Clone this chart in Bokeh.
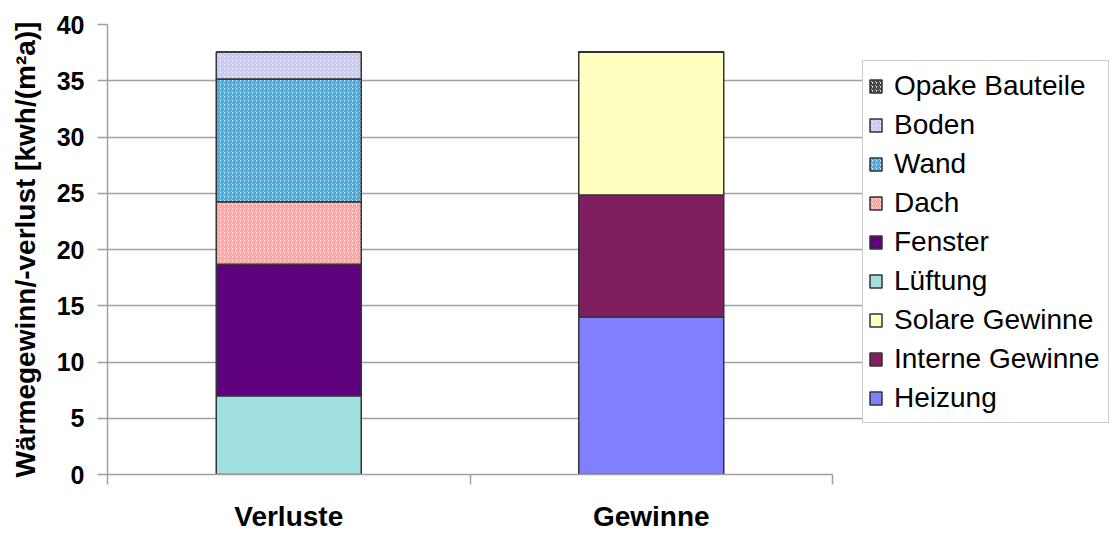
import numpy as np
from bokeh.plotting import figure
from bokeh.models import ColumnDataSource, Range1d, FixedTicker, Legend, LegendItem
from bokeh.embed import file_html
from bokeh.resources import INLINE

# Categories on the x axis
categories = ["Verluste", "Gewinne"]

# Series in stacking order (bottom to top); values per category in kWh/(m²a)
series = ["Heizung", "Interne Gewinne", "Solare Gewinne", "Lüftung",
          "Fenster", "Dach", "Wand", "Boden", "Opake Bauteile"]
heizung = [0.0, 14.0]
interne_gewinne = [0.0, 10.85]
solare_gewinne = [0.0, 12.7]
lueftung = [7.0, 0.0]
fenster = [11.7, 0.0]
dach = [5.55, 0.0]
wand = [10.9, 0.0]
boden = [2.4, 0.0]
opake_bauteile = [0.0, 0.0]

values = [heizung, interne_gewinne, solare_gewinne, lueftung,
          fenster, dach, wand, boden, opake_bauteile]

y_ticks = [0, 5, 10, 15, 20, 25, 30, 35, 40]

# fill colour, stripe colour, stripe weight per series
styles = {
    "Heizung":         ("#8080FF", None, 0),
    "Interne Gewinne": ("#7F1F5F", None, 0),
    "Solare Gewinne":  ("#FFFFC0", None, 0),
    "Lüftung":         ("#A0E0E0", None, 0),
    "Fenster":         ("#5F007F", None, 0),
    "Dach":            ("#FFEAEA", "#FF9C9C", 1.6),
    "Wand":            ("#E6F5FF", "#45AADC", 1.7),
    "Boden":           ("#F0F0FF", "#C4C4F0", 1.6),
    "Opake Bauteile":  ("#FFFFFF", "#303030", 1.6),
}

FONT = "Liberation Sans"
GRID = "#a0a0a0"

# the frame runs to the right edge; grid and axis stop at the last category
n_cat = len(categories)
x_end = n_cat + 277 / (725 / n_cat)

p = figure(width=1109, height=534, output_backend="svg", toolbar_location=None,
           x_range=Range1d(0, x_end), y_range=Range1d(0, 40),
           min_border_left=107, min_border_right=0,
           min_border_top=24, min_border_bottom=53)
p.outline_line_color = None
p.background_fill_color = "white"

x = np.arange(n_cat) + 0.5
bottom = np.zeros(n_cat)
renderers = {}
for name, vals in zip(series, values):
    top = bottom + np.array(vals)
    src = ColumnDataSource(dict(x=x, bottom=bottom, top=top))
    fill, hcol, hw = styles[name]
    kw = {}
    if hcol is not None:
        kw = dict(hatch_pattern="/", hatch_color=hcol, hatch_scale=4, hatch_weight=hw)
    r = p.vbar(x="x", bottom="bottom", top="top", width=0.4, source=src,
               fill_color=fill, line_color="#333333", line_width=1.5, **kw)
    renderers[name] = r
    bottom = top

# y axis
p.yaxis.ticker = FixedTicker(ticks=y_ticks)
p.yaxis.axis_line_color = GRID
p.yaxis.axis_line_width = 1.5
p.yaxis.major_tick_line_color = GRID
p.yaxis.major_tick_line_width = 1.5
p.yaxis.major_tick_out = 10
p.yaxis.major_tick_in = 0
p.yaxis.minor_tick_line_color = None
p.yaxis.major_label_text_font = FONT
p.yaxis.major_label_text_font_style = "bold"
p.yaxis.major_label_text_font_size = "25px"
p.yaxis.major_label_text_color = "black"
p.yaxis.major_label_standoff = 13
p.yaxis.axis_label = "Wärmegewinn/-verlust [kwh/(m²a)]"
p.yaxis.axis_label_text_font = FONT
p.yaxis.axis_label_text_font_style = "bold"
p.yaxis.axis_label_text_font_size = "28px"
p.yaxis.axis_label_text_color = "black"
p.yaxis.axis_label_standoff = 13

# x axis: labels at category centres, tick marks at category boundaries
p.xaxis.bounds = (0, n_cat)
p.xaxis.ticker = FixedTicker(ticks=list(x), minor_ticks=list(np.arange(n_cat + 1)))
p.xaxis.major_label_overrides = {float(v): c for v, c in zip(x, categories)}
p.xaxis.axis_line_color = GRID
p.xaxis.axis_line_width = 1.5
p.xaxis.major_tick_line_color = None
p.xaxis.major_tick_out = 0
p.xaxis.major_tick_in = 0
p.xaxis.minor_tick_line_color = GRID
p.xaxis.minor_tick_line_width = 1.5
p.xaxis.minor_tick_out = 10
p.xaxis.minor_tick_in = 0
p.xaxis.major_label_text_font = FONT
p.xaxis.major_label_text_font_style = "bold"
p.xaxis.major_label_text_font_size = "28px"
p.xaxis.major_label_text_color = "black"
p.xaxis.major_label_standoff = 16

p.xgrid.visible = False
p.ygrid.ticker = FixedTicker(ticks=y_ticks)
p.ygrid.bounds = (0, n_cat)
p.ygrid.grid_line_color = GRID
p.ygrid.grid_line_width = 1.5

items = [LegendItem(label=name, renderers=[renderers[name]]) for name in reversed(series)]
legend = Legend(items=items, location=(755, 51), orientation="vertical",
                label_text_font=FONT, label_text_font_size="28px", label_text_color="black",
                glyph_width=15, glyph_height=16, label_height=39, label_width=209,
                spacing=0, padding=5, label_standoff=11, margin=0,
                border_line_color="#9a9a9a", border_line_width=1.5,
                background_fill_color="white", background_fill_alpha=1.0)
p.add_layout(legend, "center")

open("out.html", "w").write(file_html(p, INLINE))
